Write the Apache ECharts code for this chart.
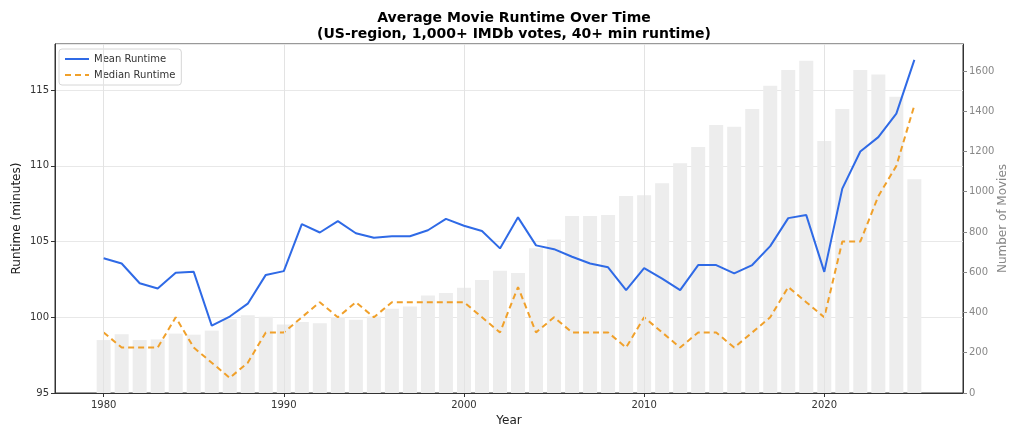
<!DOCTYPE html>
<html>
<head>
<meta charset="utf-8">
<script src="https://cdn.jsdelivr.net/npm/echarts@6/dist/echarts.min.js"></script>
<style>
html,body{margin:0;padding:0;background:#fff;}
#c{width:1024px;height:439px;}
</style>
</head>
<body>
<div id="c"></div>
<script>
const years = [1980,1981,1982,1983,1984,1985,1986,1987,1988,1989,1990,1991,1992,1993,1994,1995,1996,1997,1998,1999,2000,2001,2002,2003,2004,2005,2006,2007,2008,2009,2010,2011,2012,2013,2014,2015,2016,2017,2018,2019,2020,2021,2022,2023,2024,2025];
const meanRuntime = [103.9,103.55,102.25,101.9,102.95,103.0,99.45,100.05,100.9,102.8,103.05,106.15,105.6,106.35,105.55,105.25,105.35,105.35,105.75,106.5,106.05,105.7,104.55,106.6,104.75,104.5,104.0,103.55,103.3,101.8,103.25,102.55,101.8,103.45,103.45,102.9,103.45,104.7,106.55,106.75,103.0,108.5,110.95,111.9,113.45,117.0];
const medianRuntime = [99,98,98,98,100,98,97,96,97,99,99,100,101,100,101,100,101,101,101,101,101,100,99,102,99,100,99,99,99,98,100,99,98,99,99,98,99,100,102,101,100,105,105,108,110,114];
const movieCount = [263,292,263,266,295,290,310,366,386,379,340,353,346,378,364,380,419,430,484,497,523,561,608,596,719,763,879,879,884,979,982,1042,1141,1222,1331,1323,1411,1527,1605,1651,1252,1411,1605,1583,1472,1062];
const xTicks = [1980,1990,2000,2010,2020];

const font = 'DejaVu Sans';
const pair = (arr) => years.map((y, i) => [y, arr[i]]);
const plain = (v) => String(Math.round(v));

const chart = echarts.init(document.getElementById('c'), null, {renderer: 'canvas'});
chart.setOption({
  animation: false,
  backgroundColor: '#fff',
  textStyle: {fontFamily: font},
  title: {
    text: 'Average Movie Runtime Over Time\n(US-region, 1,000+ IMDb votes, 40+ min runtime)',
    left: 509, top: 5, textAlign: 'center',
    textStyle: {fontFamily: font, fontSize: 14, fontWeight: 'bold', color: '#000', lineHeight: 16}
  },
  legend: {
    left: 59, top: 49, orient: 'vertical',
    data: ['Mean Runtime', 'Median Runtime'],
    itemWidth: 24, itemHeight: 4, itemGap: 4,
    padding: [4, 6, 4, 5],
    borderColor: '#d6d6d6', borderWidth: 1, borderRadius: 3,
    backgroundColor: 'rgba(255,255,255,0.8)',
    itemStyle: {opacity: 0},
    textStyle: {fontFamily: font, fontSize: 10, color: '#333', lineHeight: 12}
  },
  grid: {left: 55, right: 61, top: 44, bottom: 46, outerBoundsMode: 'none', containLabel: false,
         show: true, borderColor: '#333', borderWidth: 1, backgroundColor: 'transparent'},
  xAxis: {
    type: 'value', min: 1977.3, max: 2027.7,
    name: 'Year', nameLocation: 'middle', nameGap: 22, nameMoveOverlap: false,
    nameTextStyle: {fontFamily: font, fontSize: 12, color: '#222'},
    axisLine: {show: true, onZero: false, lineStyle: {color: '#333'}},
    axisTick: {show: true, customValues: xTicks, length: 4, lineStyle: {color: '#333'}},
    axisLabel: {customValues: xTicks, formatter: plain, fontSize: 10, color: '#333', fontFamily: font, margin: 7},
    splitLine: {show: false}
  },
  yAxis: [
    {
      type: 'value', min: 95, max: 118.05, interval: 5, position: 'left',
      name: 'Runtime (minutes)', nameLocation: 'middle', nameGap: 32, nameMoveOverlap: false,
      nameTextStyle: {fontFamily: font, fontSize: 12, color: '#222'},
      axisLine: {show: true, lineStyle: {color: '#333'}},
      axisTick: {show: true, length: 4, lineStyle: {color: '#333'}},
      axisLabel: {formatter: plain, fontSize: 10, color: '#333', fontFamily: font, margin: 6, showMaxLabel: false},
      splitLine: {show: true, lineStyle: {color: '#e8e8e8', width: 1}}
    },
    {
      type: 'value', min: 0, max: 1734, interval: 200, position: 'right',
      name: 'Number of Movies', nameLocation: 'middle', nameGap: 34, nameRotate: 90, nameMoveOverlap: false,
      nameTextStyle: {fontFamily: font, fontSize: 12, color: '#888'},
      axisLine: {show: true, lineStyle: {color: '#333'}},
      axisTick: {show: true, length: 4, lineStyle: {color: '#888'}},
      axisLabel: {formatter: plain, fontSize: 10, color: '#888', fontFamily: font, margin: 6, showMaxLabel: false},
      splitLine: {show: false}
    }
  ],
  series: [
    {
      name: 'Number of Movies', type: 'bar', yAxisIndex: 1,
      data: pair(movieCount), barWidth: 14,
      itemStyle: {color: '#ededed'}, z: 1, silent: true,
      markLine: {
        silent: true, symbol: 'none', label: {show: false},
        lineStyle: {color: '#e3e3e3', width: 1, type: 'solid'},
        data: xTicks.map(v => ({xAxis: v}))
      }
    },
    {
      name: 'Mean Runtime', type: 'line', yAxisIndex: 0,
      data: pair(meanRuntime), symbol: 'none', z: 5,
      lineStyle: {color: '#2f6ae6', width: 2},
      itemStyle: {color: '#2f6ae6'}
    },
    {
      name: 'Median Runtime', type: 'line', yAxisIndex: 0,
      data: pair(medianRuntime), symbol: 'none', z: 4,
      lineStyle: {color: '#f0a02a', width: 2, type: [6, 4]},
      itemStyle: {color: '#f0a02a'}
    }
  ]
});
</script>
</body>
</html>
